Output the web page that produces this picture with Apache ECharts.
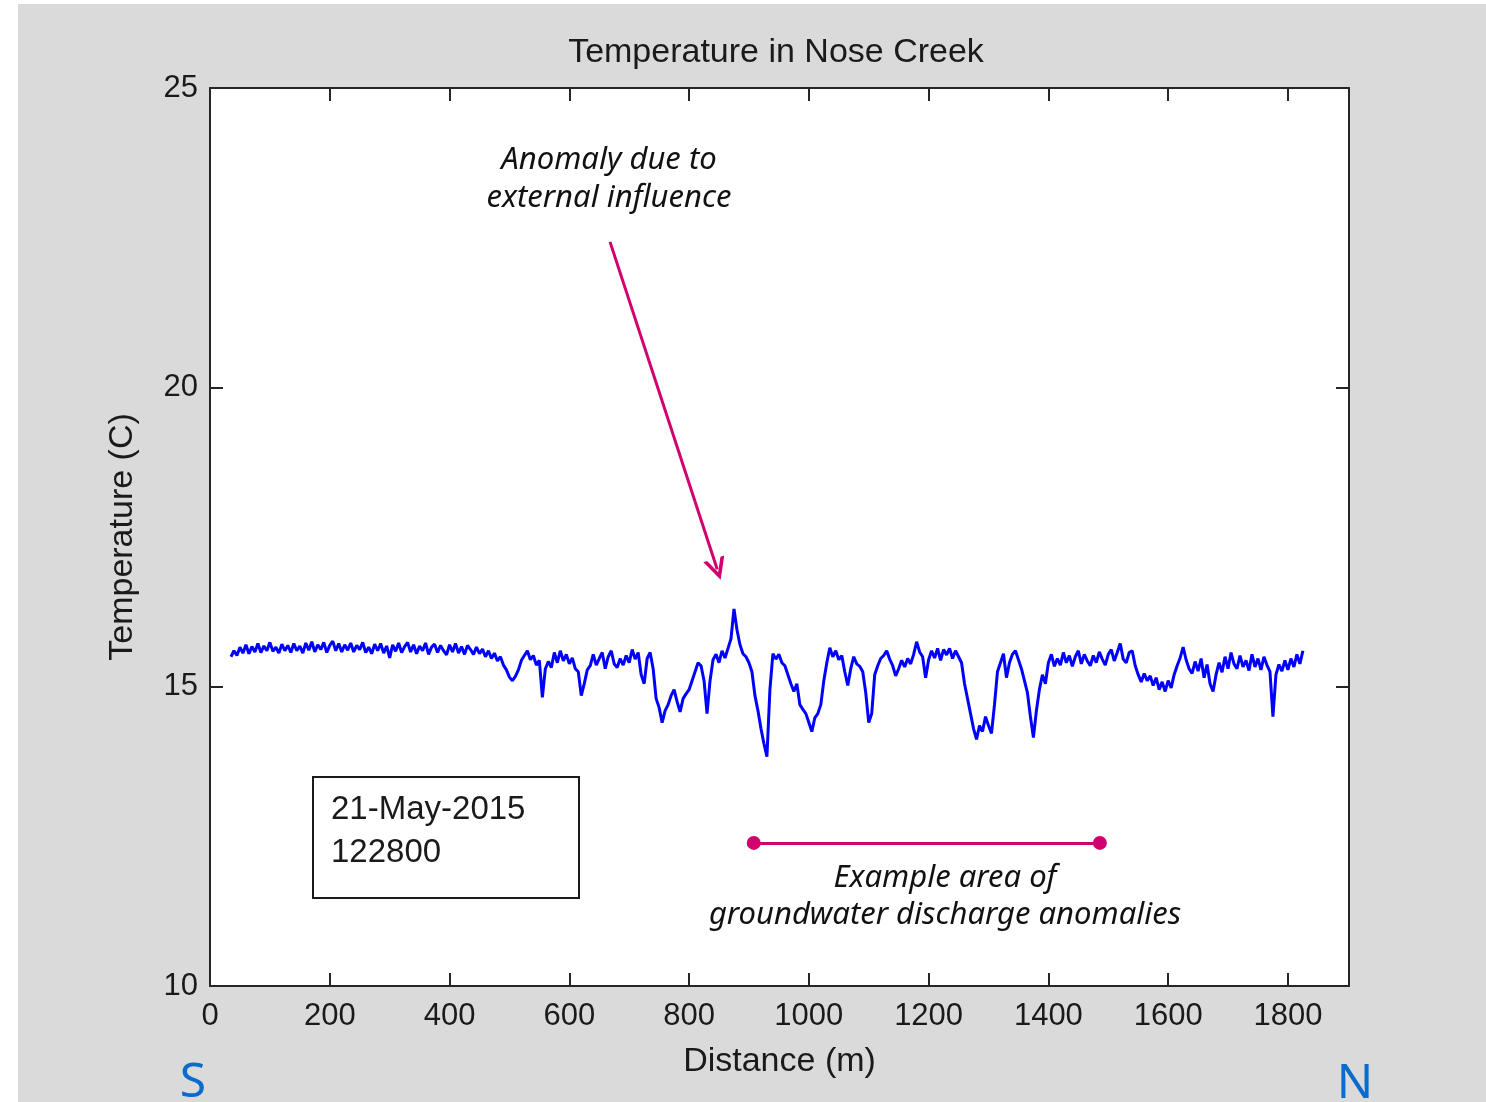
<!DOCTYPE html>
<html>
<head>
<meta charset="utf-8">
<script src="https://cdn.jsdelivr.net/npm/echarts@6/dist/echarts.min.js"></script>
<style>
html,body{margin:0;padding:0;background:#fff;width:1486px;height:1102px;overflow:hidden;}
#chart{position:absolute;left:18px;top:4px;width:1468px;height:1098px;background:#dadada;}
</style>
</head>
<body>
<div id="chart"></div>
<script>
// ---- data ----
const startDistance = 35;   // m, first sample
const sampleStep = 5;       // m between samples
const temperature = [
15.50,15.60,15.52,15.66,15.56,15.70,15.55,15.67,15.58,15.72,15.57,15.68,15.60,15.74,15.59,15.66,15.56,15.71,15.60,15.69,
15.57,15.72,15.60,15.68,15.56,15.73,15.61,15.75,15.58,15.70,15.62,15.74,15.57,15.69,15.76,15.60,15.72,15.58,15.70,15.61,
15.73,15.58,15.69,15.62,15.74,15.57,15.66,15.55,15.71,15.60,15.72,15.56,15.68,15.48,15.70,15.59,15.73,15.57,15.67,15.74,
15.58,15.70,15.55,15.68,15.60,15.73,15.54,15.66,15.71,15.57,15.69,15.60,15.53,15.70,15.58,15.72,15.56,15.67,15.54,15.69,
15.62,15.54,15.66,15.55,15.63,15.50,15.60,15.47,15.56,15.43,15.50,15.36,15.28,15.16,15.10,15.17,15.28,15.44,15.52,15.60,
15.45,15.52,15.36,15.44,14.82,15.30,15.42,15.32,15.57,15.40,15.60,15.43,15.54,15.38,15.48,15.30,15.25,14.85,15.05,15.28,
15.35,15.54,15.36,15.47,15.57,15.30,15.50,15.60,15.38,15.32,15.47,15.36,15.52,15.40,15.62,15.46,15.57,15.20,15.05,15.47,
15.57,15.30,14.80,14.65,14.40,14.60,14.70,14.85,14.95,14.75,14.58,14.80,14.88,14.95,15.10,15.25,15.40,15.35,15.10,14.55,
15.10,15.45,15.54,15.40,15.60,15.48,15.64,15.80,16.30,15.95,15.70,15.55,15.50,15.40,15.25,14.85,14.60,14.30,14.05,13.83,
14.95,15.55,15.46,15.54,15.40,15.35,15.20,15.05,14.92,15.05,14.70,14.62,14.55,14.40,14.25,14.48,14.55,14.70,15.10,15.40,
15.65,15.50,15.60,15.45,15.52,15.25,15.02,15.30,15.50,15.38,15.34,15.25,14.90,14.40,14.55,15.20,15.35,15.47,15.52,15.60,
15.46,15.35,15.18,15.30,15.44,15.33,15.47,15.38,15.54,15.75,15.58,15.50,15.15,15.45,15.60,15.48,15.64,15.44,15.62,15.53,
15.64,15.47,15.60,15.50,15.40,15.05,14.80,14.55,14.30,14.12,14.35,14.25,14.50,14.35,14.22,14.70,15.25,15.40,15.55,15.15,
15.40,15.54,15.60,15.45,15.30,15.10,14.90,14.50,14.15,14.60,14.95,15.20,15.05,15.40,15.54,15.34,15.47,15.36,15.57,15.40,
15.52,15.34,15.50,15.60,15.38,15.54,15.43,15.35,15.52,15.40,15.58,15.46,15.36,15.54,15.62,15.43,15.57,15.72,15.46,15.40,
15.57,15.60,15.35,15.20,15.08,15.22,15.10,15.18,15.02,15.15,14.95,15.08,14.92,15.10,14.98,15.20,15.35,15.48,15.66,15.45,
15.30,15.22,15.42,15.26,15.47,15.15,15.37,15.05,14.92,15.20,15.40,15.24,15.50,15.30,15.57,15.38,15.30,15.52,15.33,15.44,
15.27,15.54,15.33,15.47,15.28,15.50,15.36,15.25,14.50,15.20,15.37,15.26,15.44,15.28,15.47,15.33,15.54,15.38,15.60
];
const distance = temperature.map((_, i) => startDistance + i * sampleStep);

const xTicks = [0, 200, 400, 600, 800, 1000, 1200, 1400, 1600, 1800];
const yTicks = [10, 15, 20, 25];
const xRange = [0, 1902];
const yRange = [10, 25];

// annotation anchors (data coordinates)
const anomalyArrow = [[668, 22.43], [847, 16.96]];
const exampleSpan = [[908, 12.39], [1486, 12.39]];

const titleText = 'Temperature in Nose Creek';
const xName = 'Distance (m)';
const yName = 'Temperature (C)';
const stampLines = ['21-May-2015', '122800'];
const anomalyLabel = 'Anomaly due to\nexternal influence';
const exampleLabel = 'Example area of\ngroundwater discharge anomalies';

// ---- chart ----
const chart = echarts.init(document.getElementById('chart'), null, {renderer: 'canvas'});
const axisCol = '#262626';
const magenta = '#d2006e';
const sansFont = 'Liberation Sans, Arial, sans-serif';
const noteFont = 'Noto Sans, Open Sans, sans-serif';
const plain = v => String(v);

const points = distance.map((d, i) => [d, temperature[i]]);

function frameAxis(extra) {
  return Object.assign({
    type: 'value',
    axisLine: {show: true, onZero: false, lineStyle: {color: axisCol, width: 2}},
    splitLine: {show: false}
  }, extra);
}

chart.setOption({
  backgroundColor: '#dadada',
  animation: false,
  title: {
    text: titleText,
    left: 753, top: 27, textAlign: 'center',
    textStyle: {fontFamily: sansFont, fontSize: 34, fontWeight: 'normal', color: '#1a1a1a'}
  },
  grid: {left: 192, top: 84, width: 1139, height: 898, show: true, backgroundColor: '#ffffff', borderWidth: 0},
  xAxis: [
    frameAxis({
      min: xRange[0], max: xRange[1], position: 'bottom',
      name: xName, nameLocation: 'middle', nameGap: 59,
      nameTextStyle: {fontFamily: sansFont, fontSize: 34, color: '#1a1a1a'},
      axisTick: {show: true, inside: true, length: 13, customValues: xTicks, lineStyle: {color: axisCol, width: 2}},
      axisLabel: {show: true, customValues: xTicks, formatter: plain, margin: 15, fontFamily: sansFont, fontSize: 31, color: '#1a1a1a'}
    }),
    frameAxis({
      min: xRange[0], max: xRange[1], position: 'top',
      axisTick: {show: true, inside: true, length: 13, customValues: xTicks, lineStyle: {color: axisCol, width: 2}},
      axisLabel: {show: false}
    })
  ],
  yAxis: [
    frameAxis({
      min: yRange[0], max: yRange[1], position: 'left',
      name: yName, nameLocation: 'middle', nameGap: 70, nameRotate: 90,
      nameTextStyle: {fontFamily: sansFont, fontSize: 34, color: '#1a1a1a'},
      axisTick: {show: true, inside: true, length: 13, customValues: yTicks, lineStyle: {color: axisCol, width: 2}},
      axisLabel: {show: true, customValues: yTicks, formatter: plain, margin: 12, fontFamily: sansFont, fontSize: 31, color: '#1a1a1a'}
    }),
    frameAxis({
      min: yRange[0], max: yRange[1], position: 'right',
      axisTick: {show: true, inside: true, length: 13, customValues: yTicks, lineStyle: {color: axisCol, width: 2}},
      axisLabel: {show: false}
    })
  ],
  series: [{
    type: 'line',
    xAxisIndex: 0, yAxisIndex: 0,
    data: points,
    showSymbol: false, symbol: 'none',
    lineStyle: {color: '#0000ff', width: 3},
    z: 3,
    markLine: {
      silent: true,
      animation: false,
      label: {show: false},
      emphasis: {disabled: true},
      data: [
        [
          {coord: anomalyArrow[0], symbol: 'none'},
          {coord: anomalyArrow[1], symbol: 'path://M0,22 L11,0 L22,22 L18,22 L11,8 L4,22 Z', symbolSize: [22, 22]}
        ],
        [
          {coord: exampleSpan[0], symbol: 'circle', symbolSize: 14},
          {coord: exampleSpan[1], symbol: 'circle', symbolSize: 14}
        ]
      ],
      lineStyle: {color: magenta, width: 3, type: 'solid'},
      itemStyle: {color: magenta}
    }
  }],
  graphic: [
    {
      type: 'group', left: 294, top: 772,
      children: [
        {type: 'rect', shape: {x: 0, y: 0, width: 266, height: 121},
         style: {fill: '#ffffff', stroke: '#1a1a1a', lineWidth: 2}},
        {type: 'text', x: 18, y: 11,
         style: {text: stampLines.join('\n'), fontFamily: sansFont, fontSize: 33, lineHeight: 43, fill: '#1a1a1a'}}
      ]
    },
    {type: 'text', x: 591, y: 137,
     style: {text: anomalyLabel, textAlign: 'center', fontFamily: noteFont, fontStyle: 'italic', fontSize: 31, lineHeight: 38, fill: '#111'}},
    {type: 'text', x: 927, y: 856,
     style: {text: exampleLabel, textAlign: 'center', fontFamily: noteFont, fontStyle: 'italic', fontSize: 31, lineHeight: 37, fill: '#111'}},
    {type: 'text', x: 175, y: 1055,
     style: {text: 'S', textAlign: 'center', fontFamily: noteFont, fontSize: 48, fill: '#0a6bcc'}},
    {type: 'text', x: 1337, y: 1056,
     style: {text: 'N', textAlign: 'center', fontFamily: noteFont, fontSize: 48, fill: '#0a6bcc'}}
  ]
});
</script>
</body>
</html>
